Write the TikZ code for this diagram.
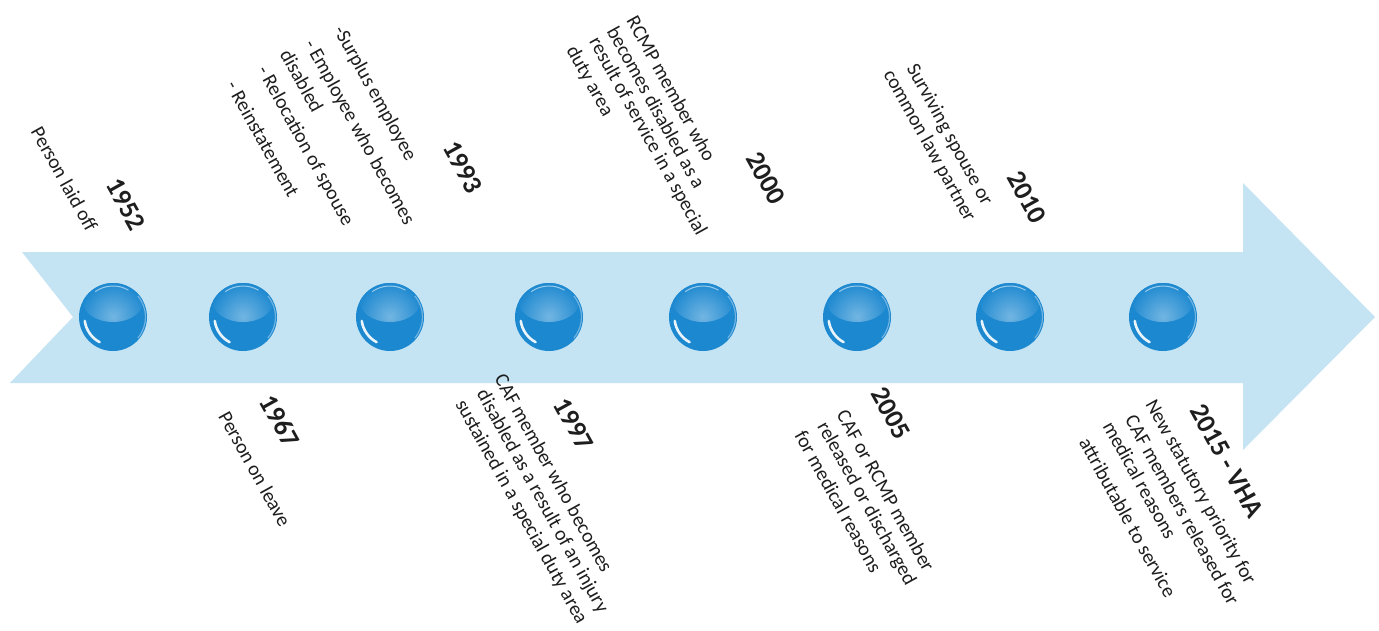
\documentclass[tikz,border=0pt]{standalone}
\usepackage{fontspec}
\setmainfont{Carlito}
\usetikzlibrary{calc}
\definecolor{arrowblue}{RGB}{196,228,244}
\definecolor{ballblue}{RGB}{28,136,208}
\definecolor{inktext}{RGB}{30,30,30}
\begin{document}
\begin{tikzpicture}[x=1pt,y=-1pt,
  desc/.style={rotate=-61, inner sep=0pt, font=\fontsize{20}{24}\selectfont, text=inktext},
  yr/.style={rotate=-61, inner sep=0pt, font=\fontsize{27}{32}\selectfont\bfseries, text=inktext},
  ball/.style={circle, minimum size=68pt, inner sep=0pt, fill=ballblue,
    path picture={
      \shade[inner color=ballblue!62!white, outer color=ballblue]
        ($(path picture bounding box.center)+(0,-15)$) ellipse (30 and 20);
      \draw[white, line width=1pt, opacity=0.55]
        ($(path picture bounding box.center)+(235:31)$) arc (235:300:31);
      \draw[ballblue!55!white, line width=1.2pt, opacity=0.8]
        ($(path picture bounding box.center)+(-40:32.5)$) arc (-40:40:32.5);
      \draw[white, line width=2.6pt, opacity=0.9, line cap=round]
        ($(path picture bounding box.center)+(172:28.5)$) arc (172:118:28.5);
    }},
  ]
\useasboundingbox (0,0) rectangle (1379,630);
\fill[white] (0,0) rectangle (1379,630);
% timeline arrow
\fill[arrowblue] (22,252) -- (1243,252) -- (1243,183) -- (1375,317) -- (1243,450)
  -- (1243,383) -- (10,383) -- (73,317) -- cycle;
% balls
\node[ball] (b1) at (113,317) {};
\node[ball] (b2) at (243,317) {};
\node[ball] (b3) at (390,317) {};
\node[ball] (b4) at (549,317) {};
\node[ball] (b5) at (703,317) {};
\node[ball] (b6) at (857,317) {};
\node[ball] (b7) at (1010,317) {};
\node[ball] (b8) at (1163,317) {};
% top labels
\node[yr] (y1952) at (126,204) {1952};
\node[desc] (t1952a) at (64.5,179) {Person laid off};
\node[yr] (y1993) at (463,167) {1993};
\node[desc] (t1993a) at (374.5,93.5) {-Surplus employee};
\node[desc] (t1993b) at (359,132.5) {- Employee who becomes};
\node[desc] (t1993c) at (302,81) {disabled};
\node[desc] (t1993d) at (305,146) {- Relocation of spouse};
\node[desc] (t1993e) at (263,139) {- Reinstatement};
\node[yr] (y2000) at (766,178) {2000};
\node[desc] (t2000a) at (671.5,88.5) {RCMP member who};
\node[desc] (t2000b) at (656.5,107.5) {becomes disabled as a};
\node[desc] (t2000c) at (647.5,136.5) {result of service in a special};
\node[desc] (t2000d) at (589.5,81.5) {duty area};
\node[yr] (y2010) at (1027,197) {2010};
\node[desc] (t2010a) at (949,135) {Surviving spouse or};
\node[desc] (t2010b) at (929,146) {common law partner};
% bottom labels
\node[yr] (y1967) at (280,421) {1967};
\node[desc] (t1967a) at (255,469) {Person on leave};
\node[yr] (y1997) at (574,424) {1997};
\node[desc] (t1997a) at (554,473) {CAF member who becomes};
\node[desc] (t1997b) at (542,501.5) {disabled as a result of an injury};
\node[desc] (t1997c) at (521,512) {sustained in a special duty area};
\node[yr] (y2005) at (891,413) {2005};
\node[desc] (t2005a) at (886,490.5) {CAF or RCMP member};
\node[desc] (t2005b) at (866,504) {released or discharged};
\node[desc] (t2005c) at (838.5,501.5) {for medical reasons};
\node[yr] (y2015) at (1227,461) {2015 - VHA};
\node[desc] (t2015a) at (1200,492.5) {New statutory priority for};
\node[desc] (t2015b) at (1182.5,510) {CAF members released for};
\node[desc] (t2015c) at (1140,480) {medical reasons};
\node[desc] (t2015d) at (1128,517.5) {attributable to service};
\end{tikzpicture}
\end{document}
